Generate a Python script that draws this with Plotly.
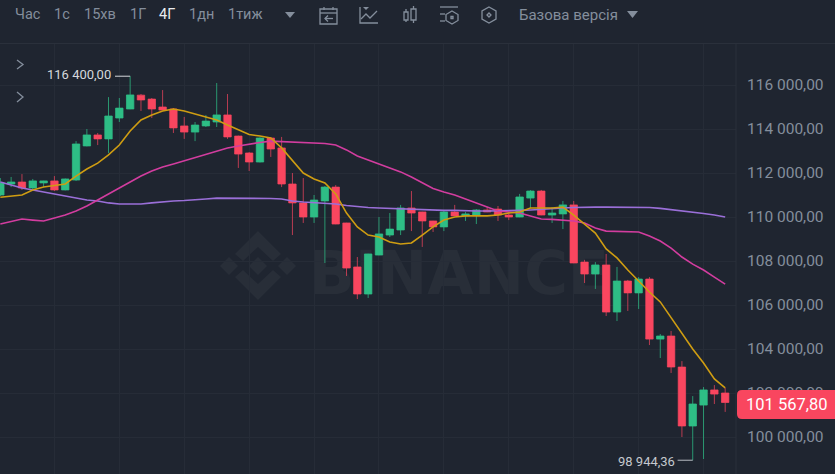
import plotly.graph_objects as go

W, H = 835, 474

BG = "#1f2530"
GRID = "#262c37"
MUTED = "#848e9c"
UP = "#2ebd85"
DOWN = "#f9465f"
FONT = "Roboto"

index = list(range(68))

opens = [111000, 111500, 111590, 111320, 111550, 111640, 111230, 111680, 113230, 113730,
         113550, 114500, 114910, 115540, 115360, 115000, 114910, 114140, 113860, 114140,
         114320, 114640, 113680, 112910, 112500, 113590, 113140, 111500, 110640, 110000,
         110730, 111360, 109730, 107730, 106500, 108270, 109180, 109410, 110410, 110230,
         109820, 109550, 110230, 110050, 110090, 110320, 110360, 110090, 110000, 110860,
         111180, 110090, 110140, 110550, 107950, 107410, 107820, 105680, 107090, 106550,
         107180, 104450, 104590, 103180, 100500, 101450, 102140, 102000]
highs = [111770, 111820, 111950, 111730, 111650, 111860, 111750, 113450, 114000, 113820,
         115450, 115410, 116400, 115590, 115410, 115770, 114950, 114550, 114320, 114640,
         116090, 115590, 113700, 112950, 113620, 113620, 113640, 112000, 111770, 111000,
         111410, 111450, 109740, 108180, 108330, 110000, 110180, 110550, 111180, 110240,
         109830, 110320, 110550, 110230, 110360, 110450, 110500, 110230, 111050, 111220,
         111230, 110450, 110730, 110730, 108050, 107950, 108320, 107730, 107140, 107270,
         107270, 104680, 104820, 103450, 101860, 102270, 102360, 102230]
lows = [110950, 111360, 111230, 111270, 111360, 111180, 111210, 111640, 113210, 113270,
        112910, 114320, 114900, 114820, 114500, 114850, 113820, 113550, 113450, 114090,
        114090, 113550, 112230, 112090, 112480, 112730, 111360, 109180, 109730, 109730,
        107910, 109670, 107320, 106270, 106320, 108260, 109090, 109180, 109360, 108640,
        109320, 109360, 110040, 109820, 109680, 110220, 109820, 109860, 109990, 110410,
        110080, 109730, 109450, 107900, 107000, 106730, 105500, 105270, 105730, 105820,
        104180, 103590, 102910, 100000, 98944.36, 99000, 101500, 101140]
closes = [111550, 111590, 111320, 111640, 111640, 111230, 111730, 113320, 113730, 113550,
          114590, 114950, 115550, 115320, 114910, 114860, 114050, 113860, 114180, 114360,
          114640, 113640, 112860, 112500, 113590, 113090, 111500, 110640, 110000, 110770,
          111360, 109680, 107680, 106500, 108320, 109230, 109450, 110410, 110180, 109820,
          109550, 110230, 110050, 110140, 110320, 110230, 110090, 110000, 110910, 111180,
          110090, 110180, 110550, 107910, 107410, 107820, 105680, 107090, 106550, 107180,
          104450, 104590, 103180, 100500, 101500, 102140, 101950, 101567.8]

ma_yellow = [110900, 110950, 111000, 111230, 111360, 111430, 111500, 111860, 112180, 112450,
             112820, 113270, 113910, 114410, 114640, 114820, 114910, 114820, 114680, 114550,
             114410, 114180, 113950, 113750, 113680, 113590, 113140, 112550, 112000, 111730,
             111550, 111050, 110180, 109550, 109180, 109090, 108860, 108770, 108820, 109180,
             109550, 109860, 110000, 110050, 110050, 110050, 110090, 110180, 110230, 110410,
             110410, 110410, 110450, 110090, 109680, 109270, 108550, 108140, 107590, 107090,
             106590, 106140, 105410, 104730, 104000, 103360, 102640, 102230]
ma_pink = [109680, 109800, 109910, 109860, 109820, 109950, 110090, 110270, 110500, 110770,
           111050, 111320, 111590, 111860, 112090, 112270, 112410, 112550, 112700, 112860,
           113000, 113140, 113230, 113320, 113390, 113450, 113430, 113410, 113360, 113360,
           113340, 113270, 113050, 112770, 112590, 112410, 112230, 112050, 111820, 111550,
           111300, 111140, 111000, 110820, 110640, 110450, 110270, 110230, 110180, 110050,
           109910, 109890, 109860, 109820, 109730, 109500, 109360, 109340, 109320, 109320,
           109140, 108910, 108590, 108180, 107860, 107590, 107270, 106950]
ma_purple = [111590, 111450, 111320, 111230, 111140, 111050, 110950, 110860, 110770, 110730,
             110640, 110590, 110590, 110590, 110640, 110700, 110730, 110750, 110770, 110820,
             110860, 110860, 110860, 110860, 110860, 110840, 110820, 110730, 110680, 110660,
             110640, 110590, 110520, 110470, 110430, 110410, 110390, 110360, 110340, 110320,
             110320, 110300, 110300, 110270, 110270, 110270, 110270, 110300, 110300, 110320,
             110360, 110390, 110410, 110430, 110450, 110450, 110450, 110450, 110450, 110450,
             110430, 110390, 110340, 110270, 110230, 110160, 110090, 110000]

price_ticks = [100000, 102000, 104000, 106000, 108000, 110000, 112000, 114000, 116000]
price_labels = ["100 000,00", "102 000,00", "104 000,00", "106 000,00", "108 000,00",
                "110 000,00", "112 000,00", "114 000,00", "116 000,00"]
time_grid = [5, 11, 17, 23, 29, 35, 41, 47, 53, 59, 65]

toolbar_labels = ["Час", "1с", "15хв", "1Г", "4Г", "1дн", "1тиж", "Базова версія"]
toolbar_x = [13, 52, 82, 128, 157, 187, 226, 517]
active_label = "4Г"


def px(x):
    return x / W


def py(y):
    return 1 - y / H


def path(points, close=False):
    cmds = [f"{'M' if n == 0 else 'L'}{px(x):.5f},{py(y):.5f}" for n, (x, y) in enumerate(points)]
    return " ".join(cmds) + (" Z" if close else "")


def stroke(points, color=MUTED, width=1.3, close=False):
    return dict(type="path", xref="paper", yref="paper", path=path(points, close),
                line=dict(color=color, width=width))


def solid(points, color, layer="above"):
    return dict(type="path", xref="paper", yref="paper", path=path(points, True),
                fillcolor=color, line=dict(width=0), layer=layer)


def diamond(cx, cy, r, color):
    return solid([(cx, cy - r), (cx + r, cy), (cx, cy + r), (cx - r, cy)], color, "below")


fig = go.Figure()

fig.add_trace(go.Candlestick(
    x=index, open=opens, high=highs, low=lows, close=closes,
    increasing=dict(line=dict(color="rgba(46,189,133,0.75)", width=1), fillcolor=UP),
    decreasing=dict(line=dict(color="rgba(249,70,95,0.7)", width=1), fillcolor=DOWN),
    whiskerwidth=0,
))

for values, color in [(ma_purple, "#9a6fd8"), (ma_pink, "#d23d9f"), (ma_yellow, "#cf9d12")]:
    fig.add_trace(go.Scatter(x=index, y=values, mode="lines",
                             line=dict(color=color, width=1.6)))

wm = "#282e38"
shapes = [
    # header rule and price axis line
    dict(type="line", xref="paper", yref="paper", x0=0, x1=1, y0=py(43.5), y1=py(43.5),
         line=dict(color="#2a303b", width=1)),
    dict(type="line", xref="paper", yref="paper", x0=px(736), x1=px(736), y0=0, y1=py(44),
         line=dict(color="#2a303b", width=1)),
    # watermark
    diamond(258, 266, 9, wm), diamond(229, 266, 9, wm), diamond(287, 266, 9, wm),
    solid([(258, 231), (281, 254), (273, 261), (258, 247), (243, 261), (235, 254)], wm, "below"),
    solid([(258, 300), (281, 277), (273, 270), (258, 284), (243, 270), (235, 277)], wm, "below"),
    dict(type="rect", xref="paper", yref="paper", x0=px(299), x1=px(619), y0=py(301), y1=py(237),
         line=dict(width=0), layer="below",
         label=dict(text="BINANCE", textposition="middle center",
                    font=dict(family="DejaVu Sans", size=60, color=wm, weight="bold"))),
    # high / low leaders
    dict(type="line", x0=10.6, x1=12, y0=116400, y1=116400, line=dict(color="#d5d8dc", width=1)),
    dict(type="line", x0=62.6, x1=64, y0=98944.36, y1=98944.36, line=dict(color="#b7bbc2", width=1)),
    # last price pill
    dict(type="path", xref="paper", yref="paper", fillcolor=DOWN, line=dict(width=0),
         path=(f"M{px(742)},{py(390)} L{px(835)},{py(390)} L{px(835)},{py(419)} L{px(742)},{py(419)} "
               f"Q{px(737)},{py(419)} {px(737)},{py(414)} L{px(737)},{py(395)} "
               f"Q{px(737)},{py(390)} {px(742)},{py(390)} Z")),
    # dropdown triangles
    solid([(285, 12), (295, 12), (290, 18)], MUTED),
    solid([(627, 11), (638, 11), (632.5, 18)], MUTED),
    # side chevrons
    stroke([(17, 60), (23, 64.5), (17, 69)]),
    stroke([(17, 92), (23, 97), (17, 102)]),
    # calendar icon
    stroke([(320, 9), (337, 9), (337, 24), (320, 24)], close=True),
    stroke([(320, 13), (337, 13)]),
    stroke([(324, 7), (324, 10)]),
    stroke([(333, 7), (333, 10)]),
    stroke([(333, 18.5), (325, 18.5)]),
    stroke([(328, 15.5), (325, 18.5), (328, 21.5)]),
    # line chart icon
    stroke([(360, 7), (360, 23), (378, 23)]),
    stroke([(361, 19), (366, 14), (370, 18), (377, 11)]),
    solid([(363, 7), (369, 7), (366, 10)], MUTED),
    # candles icon
    stroke([(404, 12), (408, 12), (408, 20), (404, 20)], close=True),
    stroke([(406, 9), (406, 12)]),
    stroke([(406, 20), (406, 22)]),
    stroke([(411, 9), (416, 9), (416, 20), (411, 20)], close=True),
    stroke([(413.5, 6), (413.5, 9)]),
    stroke([(413.5, 20), (413.5, 23)]),
    # settings icon
    stroke([(440, 7), (458, 7)]),
    stroke([(440, 14), (445, 14)]),
    stroke([(440, 21), (445, 21)]),
    stroke([(452, 11), (458, 14.5), (458, 20.5), (452, 24), (446, 20.5), (446, 14.5)], close=True),
    stroke([(451, 16.5), (453, 16.5), (453, 18.5), (451, 18.5)], close=True),
    # hexagon icon
    stroke([(489, 7), (496, 11), (496, 19), (489, 23), (482, 19), (482, 11)], close=True),
    stroke([(489, 13), (491, 15), (489, 17), (487, 15)], close=True),
]

annotations = []
for label, x in zip(toolbar_labels, toolbar_x):
    annotations.append(dict(
        text=label, xref="paper", yref="paper", x=px(x), y=py(15),
        xanchor="left", yanchor="middle", showarrow=False,
        font=dict(family=FONT, size=15 if len(label) > 6 else 14.5,
                  color="#eaecef" if label == active_label else MUTED),
    ))
annotations += [
    dict(text="116 400,00", xref="paper", yref="paper", x=px(113), y=py(75), xanchor="right",
         yanchor="middle", showarrow=False, font=dict(family=FONT, size=13, color="#d5d8dc")),
    dict(text="98 944,36", xref="paper", yref="paper", x=px(677), y=py(461), xanchor="right",
         yanchor="middle", showarrow=False, font=dict(family=FONT, size=13, color="#c4c8ce")),
    dict(text="101 567,80", xref="paper", yref="paper", x=px(786.5), y=py(404), xanchor="center",
         yanchor="middle", showarrow=False, font=dict(family=FONT, size=16.5, color="#ffffff")),
]

fig.update_layout(
    width=W, height=H,
    margin=dict(l=0, r=0, t=0, b=0),
    paper_bgcolor=BG, plot_bgcolor=BG,
    showlegend=False,
    boxgap=0.02,
    hovermode=False,
    shapes=shapes,
    annotations=annotations,
    xaxis=dict(domain=[0, 736 / W], range=[-0.03, 68.0], rangeslider=dict(visible=False),
               tickvals=time_grid, showticklabels=False, ticks="",
               showgrid=True, gridcolor=GRID, gridwidth=1, zeroline=False),
    yaxis=dict(domain=[0, 430 / H], range=[98318, 117864], side="right",
               tickvals=price_ticks, ticktext=price_labels, ticks="",
               ticklabelstandoff=10, showgrid=True, gridcolor=GRID, gridwidth=1, zeroline=False,
               tickfont=dict(family=FONT, size=15.5, color=MUTED)),
)

fig.write_html("out.html", config=dict(displayModeBar=False),
               post_script="document.body.style.margin='0';document.body.style.overflow='hidden';")
